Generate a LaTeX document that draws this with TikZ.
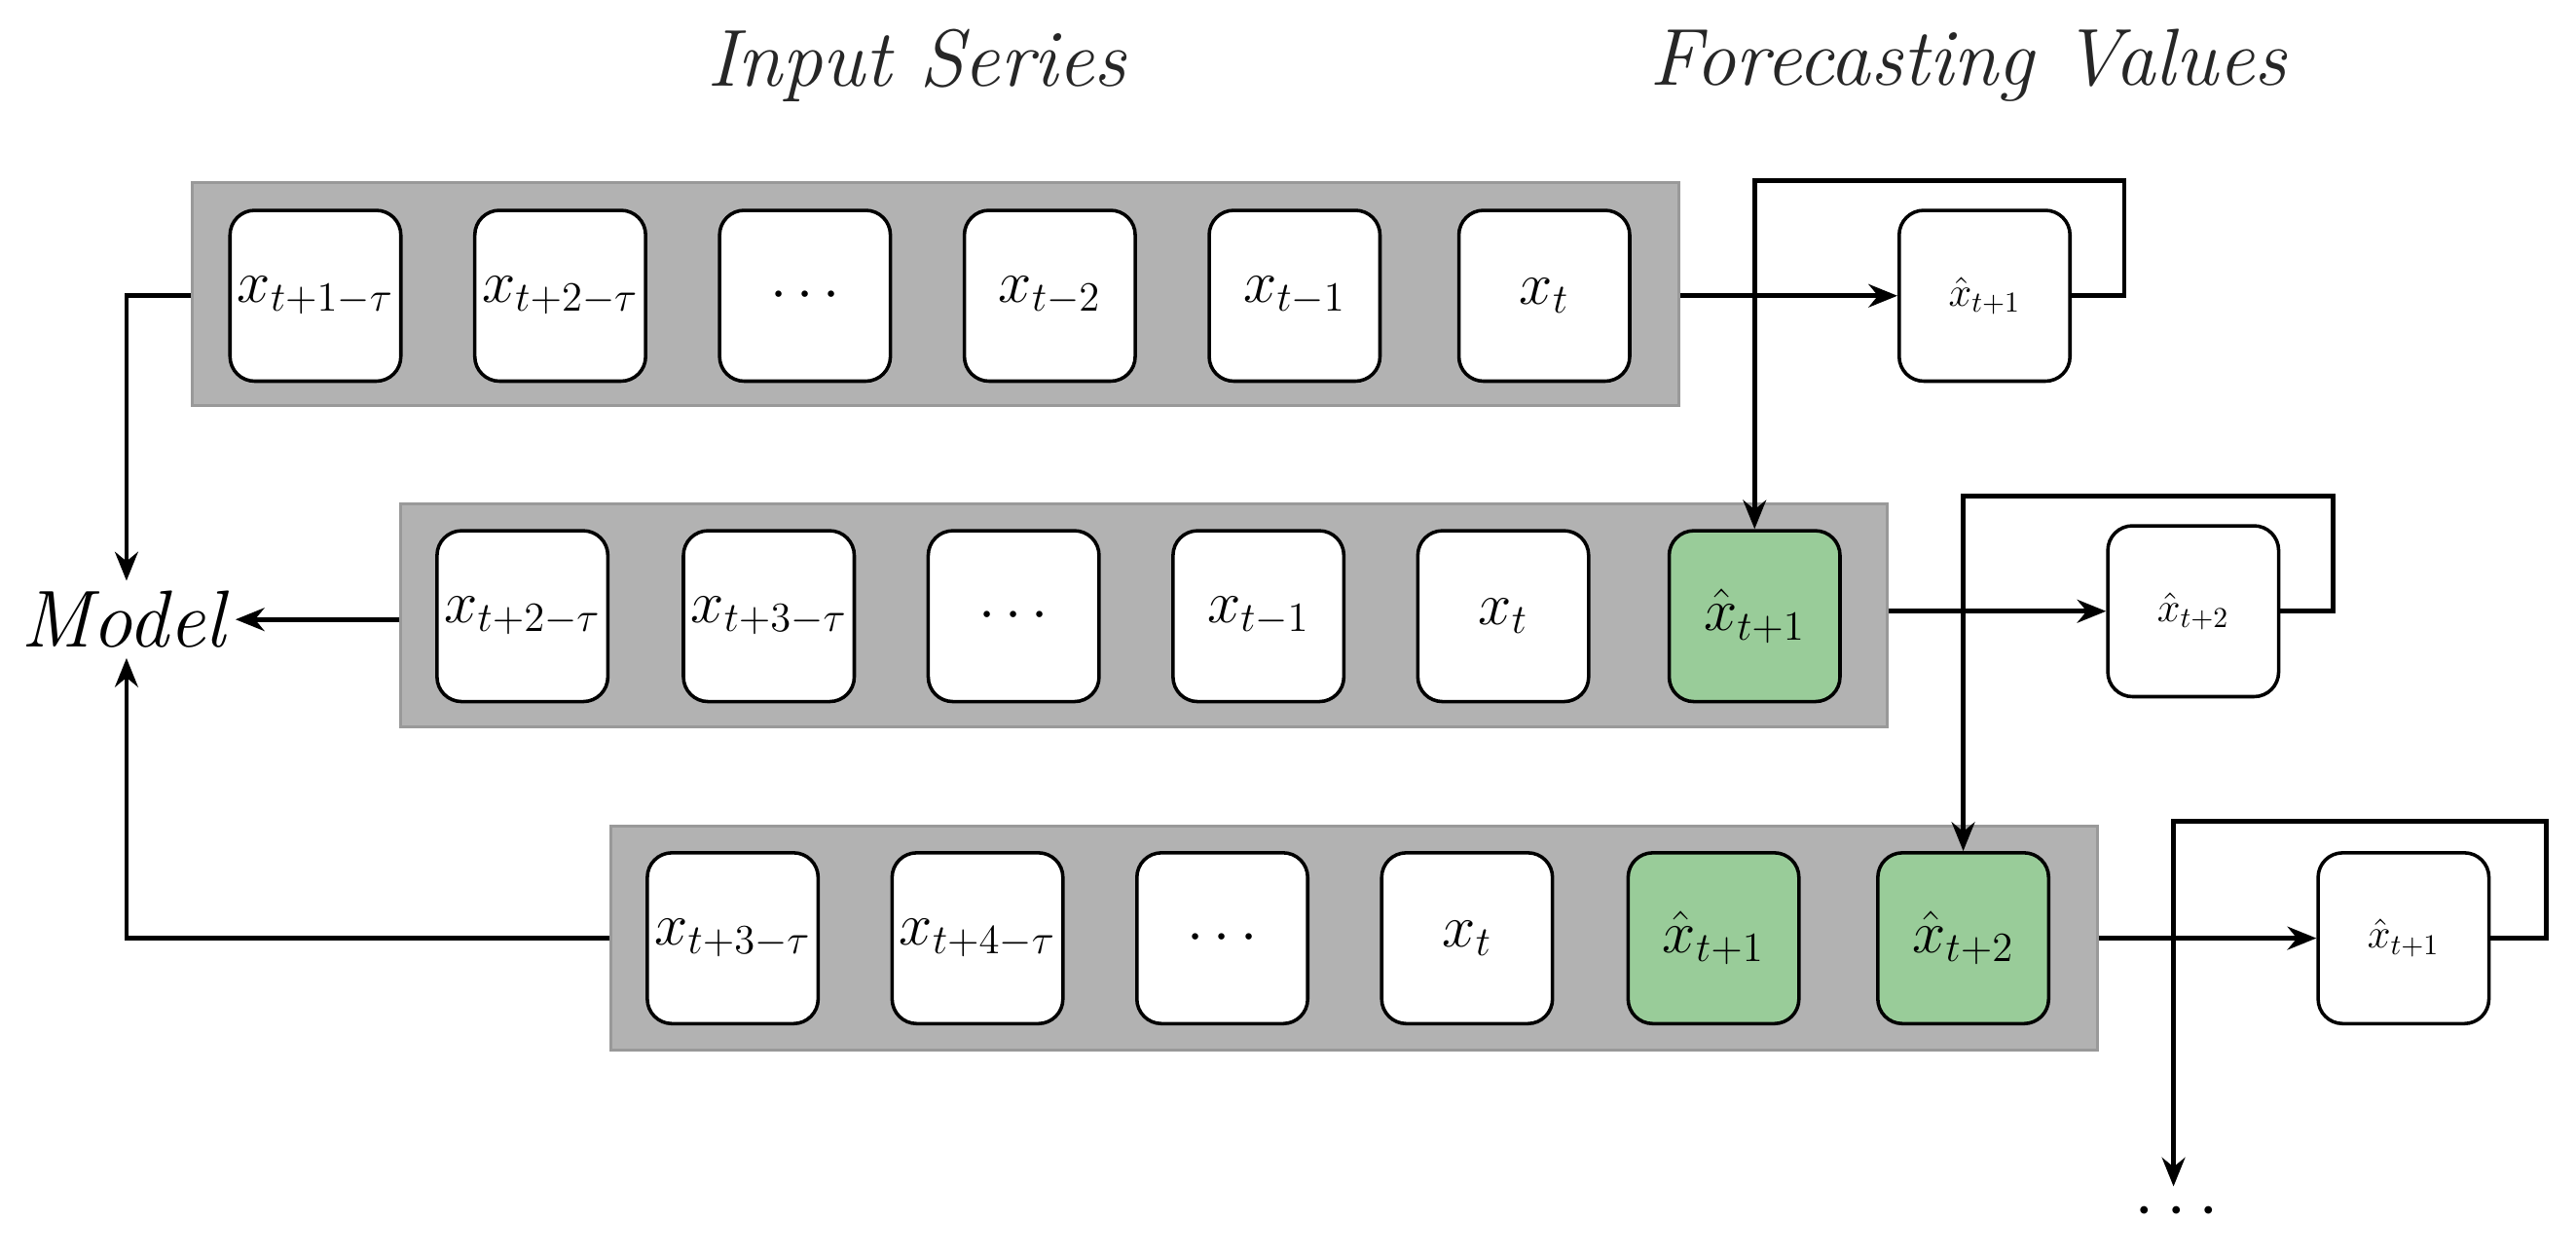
\documentclass[tikz,border=0pt]{standalone}
\usetikzlibrary{arrows.meta,shadows}
\begin{document}
\begin{tikzpicture}[x=0.02cm,y=-0.02cm,
 row/.style={draw=black!40,fill=black!30,line width=1pt,minimum width=18.1cm,minimum height=2.72cm,inner sep=0},
 box/.style={draw=black,fill=white,line width=1.2pt,rounded corners=0.3cm,minimum width=2.08cm,minimum height=2.08cm,inner sep=0,font=\fontsize{22}{24}\selectfont},
 gbox/.style={box,fill=green!50!black!40!white},
 obox/.style={box,font=\fontsize{14}{16}\selectfont},
 arr/.style={line width=1.6pt,-{Stealth[length=10pt,width=8pt]}},
 ttl/.style={font=\fontsize{28}{30}\selectfont\itshape,text=black!85}]
\useasboundingbox (0,0) rectangle (1568,765);
\node[ttl] (t1) at (558,40) {Input Series};
\node[ttl] (t2) at (1198,40) {Forecasting Values};
\node[font=\fontsize{28}{30}\selectfont\itshape] (model) at (75,377) {Model};
% row 1
\node[row] (r1) at (569.5,179) {};
\node[box] (a1) at (192,180) {$x_{t+1-\tau}$};
\node[box] (a2) at (341,180) {$x_{t+2-\tau}$};
\node[box] (a3) at (490,180) {$\cdots$};
\node[box] (a4) at (639,180) {$x_{t-2}$};
\node[box] (a5) at (788,180) {$x_{t-1}$};
\node[box] (a6) at (940,180) {$x_{t}$};
\node[obox] (o1) at (1208,180) {$\hat{x}_{t+1}$};
% row 2
\node[row] (r2) at (696.5,374.5) {};
\node[box] (b1) at (318,375) {$x_{t+2-\tau}$};
\node[box] (b2) at (468,375) {$x_{t+3-\tau}$};
\node[box] (b3) at (617,375) {$\cdots$};
\node[box] (b4) at (766,375) {$x_{t-1}$};
\node[box] (b5) at (915,375) {$x_{t}$};
\node[gbox] (b6) at (1068,375) {$\hat{x}_{t+1}$};
\node[obox] (o2) at (1335,372) {$\hat{x}_{t+2}$};
% row 3
\node[row] (r3) at (824.5,571) {};
\node[box] (c1) at (446,571) {$x_{t+3-\tau}$};
\node[box] (c2) at (595,571) {$x_{t+4-\tau}$};
\node[box] (c3) at (744,571) {$\cdots$};
\node[box] (c4) at (893,571) {$x_{t}$};
\node[gbox] (c5) at (1043,571) {$\hat{x}_{t+1}$};
\node[gbox] (c6) at (1195,571) {$\hat{x}_{t+2}$};
\node[obox] (o3) at (1463,571) {$\hat{x}_{t+1}$};
\node[font=\fontsize{24}{26}\selectfont] (dots) at (1325,738) {$\cdots$};
% connectors
\draw[arr] (r1.east |- o1) -- (o1);
\draw[arr] (r2.east |- o2) -- (o2);
\draw[arr] (r3.east |- o3) -- (o3);
\draw[arr] (o1.east) -- (1293,180) -- (1293,110) -- (1068,110) -- (b6.north);
\draw[arr] (o2.east) -- (1420,372) -- (1420,302) -- (1195,302) -- (c6.north);
\draw[arr] (o3.east) -- (1550,571) -- (1550,500) -- (1323,500) -- (dots.north -| 1323,0);
\draw[arr] (r1.west |- a1) -- (77,180) -- (model.north -| 77,0);
\draw[arr] (r2.west |- model) -- (model.east);
\draw[arr] (r3.west |- c1) -- (77,571) -- (model.south -| 77,0);
\end{tikzpicture}
\end{document}
